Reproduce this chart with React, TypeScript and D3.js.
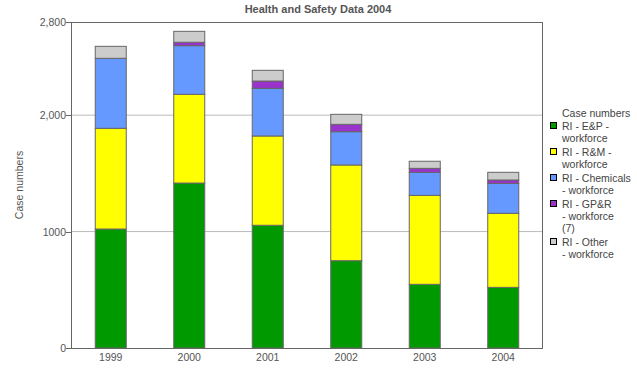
import React from 'react';
import * as d3 from 'd3';

const years = ['1999', '2000', '2001', '2002', '2003', '2004'];
const epWorkforce = [1022, 1417, 1054, 750, 547, 521];
const rmWorkforce = [865, 762, 767, 822, 764, 636];
const chemWorkforce = [601, 418, 409, 286, 198, 257];
const gprWorkforce = [0, 29, 63, 63, 34, 29];
const otherWorkforce = [103, 94, 92, 86, 61, 66];

const seriesNames = [
  ['RI - E&P -', 'workforce'],
  ['RI - R&M -', 'workforce'],
  ['RI - Chemicals', '- workforce'],
  ['RI - GP&R', '- workforce', '(7)'],
  ['RI - Other', '- workforce'],
];
const seriesColors = ['#009900', '#ffff00', '#6699ff', '#9933cc', '#cccccc'];
const yTicks = [0, 1000, 2000, 2800];
const yTickLabels = ['0', '1000', '2,000', '2,800'];

const W = 637;
const H = 368;
const left = 71, right = 542, top = 22, bottom = 348;
const font = '"Liberation Sans", Arial, sans-serif';

export default function App() {
  const x = d3.scaleBand<string>()
    .domain(years)
    .range([left, right])
    .paddingInner(0.605)
    .paddingOuter(0.3025);
  const y = d3.scaleLinear().domain([0, 2800]).range([bottom, top]);

  const rows = years.map((yr, i) => ({
    year: yr,
    s0: epWorkforce[i], s1: rmWorkforce[i], s2: chemWorkforce[i], s3: gprWorkforce[i], s4: otherWorkforce[i],
  }));
  const stack = d3.stack<any>().keys(['s0', 's1', 's2', 's3', 's4']);
  const layers = stack(rows);

  // legend layout
  const lineH = 11.8;
  const itemGap = 2.4;
  let cy = 126;
  const legendItems = seriesNames.map((lines, i) => {
    const item = { lines, color: seriesColors[i], y: cy };
    cy += lines.length * lineH + itemGap;
    return item;
  });

  return (
    <svg width={W} height={H} style={{ position: 'absolute', left: 0, top: 0 }} fontFamily={font}>
      <rect width={W} height={H} fill="#fff" />
      <text x={318} y={13} textAnchor="middle" fontSize={11} fontWeight="bold" fill="#555">
        Health and Safety Data 2004
      </text>

      {/* gridlines */}
      {[1000, 2000].map(v => (
        <line key={v} x1={left} x2={right} y1={y(v)} y2={y(v)} stroke="#bbb" strokeWidth={1} />
      ))}

      {/* bars */}
      {layers.map((layer, li) => (
        <g key={li}>
          {layer.map((d, i) => (
            d[1] - d[0] > 0 ? (
              <rect
                key={i}
                x={x(years[i])! + 0.5}
                y={y(d[1])}
                width={x.bandwidth()}
                height={y(d[0]) - y(d[1])}
                fill={seriesColors[li]}
                stroke="#666"
                strokeWidth={1}
              />
            ) : null
          ))}
        </g>
      ))}

      {/* frame */}
      <rect x={left + 0.5} y={top + 0.5} width={right - left} height={bottom - top} fill="none" stroke="#666" strokeWidth={1} />

      {/* y axis */}
      {yTicks.map((v, i) => (
        <g key={v}>
          <line x1={left - 5} x2={left} y1={Math.round(y(v)) + 0.5} y2={Math.round(y(v)) + 0.5} stroke="#666" />
          <text x={left - 5} y={y(v) + 4} textAnchor="end" fontSize={10.5} fill="#555">{yTickLabels[i]}</text>
        </g>
      ))}
      <text transform={`translate(23,${(top + bottom) / 2}) rotate(-90)`} textAnchor="middle" fontSize={10.5} fill="#555">
        Case numbers
      </text>

      {/* x axis labels */}
      {years.map(yr => (
        <text key={yr} x={x(yr)! + x.bandwidth() / 2 + 0.5} y={361} textAnchor="middle" fontSize={10.5} fill="#555">{yr}</text>
      ))}

      {/* legend */}
      <text x={562} y={117} fontSize={10.5} fill="#444">Case numbers</text>
      {legendItems.map((it, i) => (
        <g key={i}>
          <rect x={550.5} y={Math.round(it.y) - 3.5} width={6} height={6} fill={it.color} stroke="#000" strokeWidth={1} />
          {it.lines.map((ln, j) => (
            <text key={j} x={562} y={it.y + 4 + j * lineH} fontSize={10.5} fill="#444">{ln}</text>
          ))}
        </g>
      ))}
    </svg>
  );
}
